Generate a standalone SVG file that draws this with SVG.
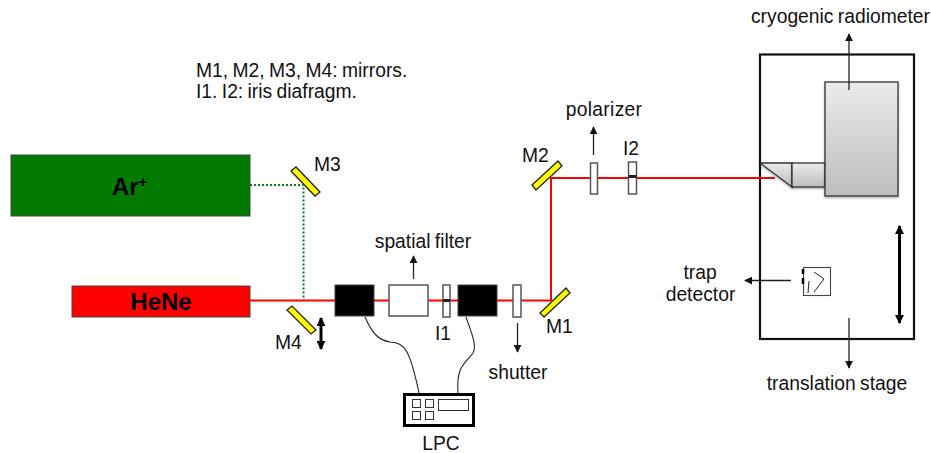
<svg xmlns="http://www.w3.org/2000/svg" width="931" height="453" viewBox="0 0 931 453">
<style>
text{font-family:"Liberation Sans",Arial,sans-serif;font-size:19.3px;word-spacing:-1px;fill:#111}
.l{font-size:24px;font-weight:bold;fill:#000}
.b{fill:#000;stroke:#444;stroke-width:1}
.m{fill:#ff0;stroke:#222;stroke-width:1.300}
.o{fill:#fff;stroke:#555;stroke-width:1.500}
.r{fill:none;stroke:#f00;stroke-width:2}
.g{fill:none;stroke:#0a7a1a;stroke-width:2;stroke-dasharray:2 2}
.a{fill:none;stroke:#222;stroke-width:1.300}
.t{fill:none;stroke:#222;stroke-width:1.100}
.w{fill:none;stroke:#000;stroke-width:3}
.s{fill:url(#gr);stroke:#333;stroke-width:1.300;filter:url(#sh)}
</style>
<defs>
<linearGradient id="gr" x1="0" y1="0" x2="0" y2="1"><stop offset="0" stop-color="#ebebeb"/><stop offset="1" stop-color="#bdbdbd"/></linearGradient>
<filter id="sh" x="-10%" y="-10%" width="120%" height="120%"><feDropShadow dx="0" dy="1.500" stdDeviation="1" flood-color="#000" flood-opacity=".3"/></filter>
<marker id="ah" viewBox="0 0 10 10" refX="9" refY="5" markerWidth="8" markerHeight="8" markerUnits="userSpaceOnUse" orient="auto-start-reverse"><path d="M0 0L10 5L0 10Z" fill="#111"/></marker>
<marker id="bh" viewBox="0 0 10 10" refX="9" refY="5" markerWidth="9" markerHeight="9" markerUnits="userSpaceOnUse" orient="auto-start-reverse"><path d="M0 0L10 5L0 10Z" fill="#000"/></marker>
</defs>

<g id="stage"><rect x="760" y="54.500" width="154" height="284.500" fill="none" stroke="#111" stroke-width="2.200"/></g>

<g id="ar"><rect x="11" y="155" width="239" height="61" fill="#007a00" stroke="#444" stroke-width="1"/><text class="l" x="112" y="195">Ar<tspan dy="-8" style="font-size:14px">+</tspan></text></g>
<g id="hene"><rect x="72" y="286" width="178" height="31" fill="#f00" stroke="#444" stroke-width="1"/><text class="l" x="161" y="310" text-anchor="middle">HeNe</text></g>

<g id="m3"><path class="m" d="M291 171L296 167L320 192L315 196Z"/><text x="314" y="171">M3</text></g>
<g id="m4"><path class="m" d="M287 310L292 306L316 330L311 334Z"/><text x="275" y="349">M4</text></g>
<g id="m1"><path class="m" d="M540 313L566 288L570 293L544 317Z"/><text x="546" y="333">M1</text></g>
<g id="m2"><path class="m" d="M532 185L558 161L562 166L536 190Z"/><text x="522" y="162">M2</text></g>

<g id="radiometer">
<path class="s" d="M760 163H792V187Z"/>
<rect class="s" x="792" y="163" width="33" height="24"/>
<rect class="s" x="825" y="82" width="73" height="114"/>
<text x="840.500" y="23" text-anchor="middle">cryogenic radiometer</text>
</g>

<g id="connectors">
<path class="g" d="M250 185H303.500V300"/>
<path class="r" d="M250 300.500H335M374 300.500H389M428 300.500H458M497 300.500H551V178H775"/>
<path class="a" d="M849 90V34" marker-end="url(#ah)"/>
<path class="a" d="M413.500 279V256" marker-end="url(#ah)"/>
<path class="a" d="M517.500 323V352" marker-end="url(#ah)"/>
<path class="a" d="M593.500 155V127" marker-end="url(#ah)"/>
<path class="a" d="M791 280.500H745" marker-end="url(#ah)"/>
<path class="a" d="M849 318V368" marker-end="url(#ah)"/>
<path class="w" d="M899.500 226V323" marker-start="url(#bh)" marker-end="url(#bh)"/>
<path class="w" d="M321 318V349" marker-start="url(#bh)" marker-end="url(#bh)"/>
<path class="t" d="M365 317C372 333 378 340 390 342C405 343 410 350 419 393"/>
<path class="t" d="M466 317C472 334 477 346 473 353C465 364 456 366 458 393"/>
</g>

<g id="lens1"><rect class="b" x="335" y="285" width="39" height="31"/></g>
<g id="sf"><rect class="o" x="389" y="285" width="39" height="31"/><text x="423" y="248" text-anchor="middle">spatial filter</text></g>
<g id="i1"><rect class="o" x="443" y="285" width="7" height="32"/><path d="M443 300.500H450" stroke="#222" stroke-width="3"/><text x="443" y="340" text-anchor="middle">I1</text></g>
<g id="lens2"><rect class="b" x="458" y="285" width="39" height="31"/></g>
<g id="shutter"><rect class="o" x="513" y="285" width="8" height="32"/><text x="518" y="379" text-anchor="middle">shutter</text></g>

<g id="polarizer"><rect class="o" x="590.500" y="163" width="7" height="31"/><text x="604" y="116" text-anchor="middle" style="letter-spacing:.3px">polarizer</text></g>
<g id="i2"><rect class="o" x="628.500" y="162" width="8" height="32"/><path d="M628.500 176.500H636.500" stroke="#222" stroke-width="3"/><text x="631" y="155" text-anchor="middle">I2</text></g>

<g id="trap">
<rect x="803.500" y="267.500" width="27" height="28" fill="#fff" stroke="#444" stroke-width="1.100"/>
<path d="M803 269V274M803 278V284" stroke="#000" stroke-width="2.500"/>
<path d="M814 272L824 279L814 292M808 293L809 281" fill="none" stroke="#222" stroke-width="1"/>
<text x="700" y="279" text-anchor="middle">trap</text><text x="700.500" y="301" text-anchor="middle">detector</text>
</g>

<g id="lpc">
<rect x="404.500" y="394.500" width="69" height="31" fill="#fff" stroke="#000" stroke-width="3"/>
<g fill="#fff" stroke="#333" stroke-width="1"><rect x="412.500" y="399.500" width="8" height="8"/><rect x="425.500" y="399.500" width="8" height="8"/><rect x="412.500" y="411.500" width="8" height="8"/><rect x="425.500" y="411.500" width="8" height="8"/><rect x="438.500" y="399.500" width="30" height="11"/></g>
<text x="441" y="450" text-anchor="middle">LPC</text>
</g>

<g id="legend"><text x="196" y="77">M1, M2, M3, M4: mirrors.</text><text x="196" y="98">I1. I2: iris diafragm.</text></g>
<text x="837" y="390" text-anchor="middle">translation stage</text>
</svg>
